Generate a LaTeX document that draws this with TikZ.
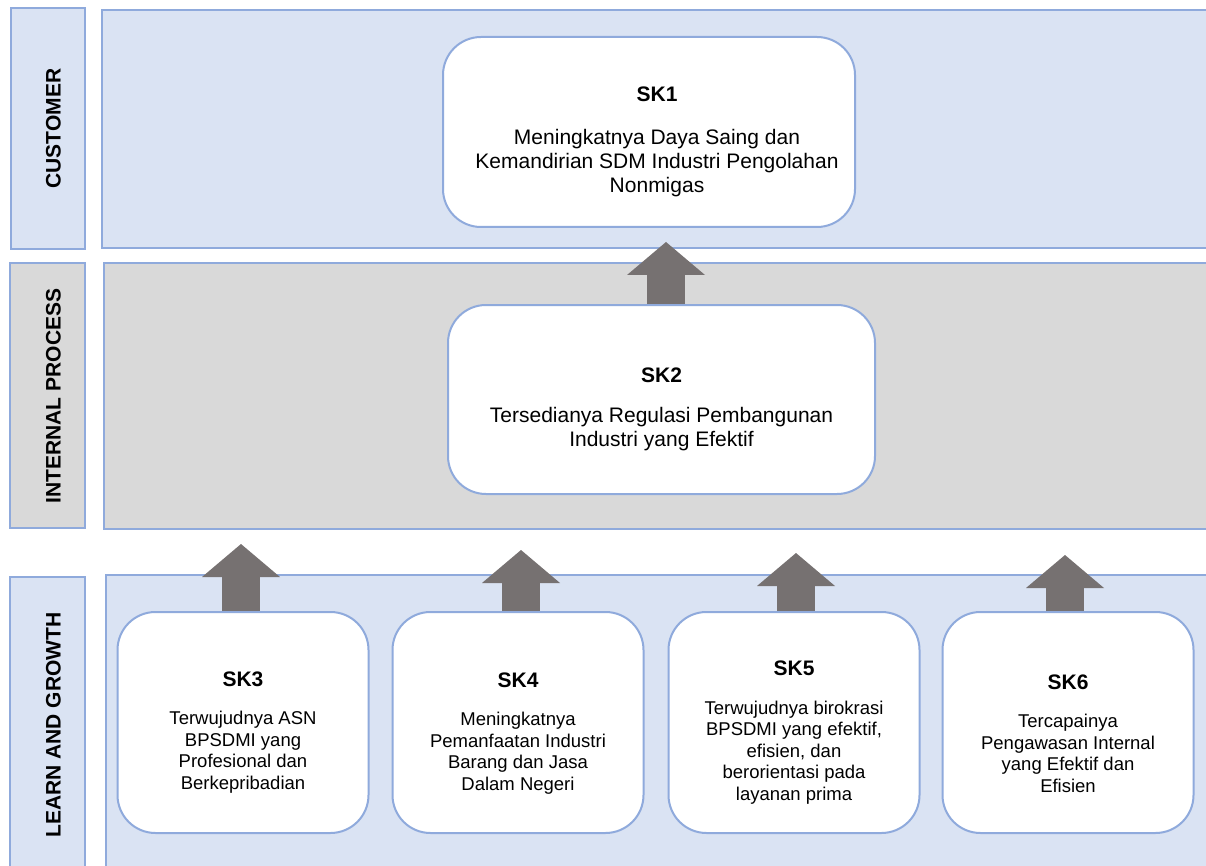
\documentclass[tikz,border=0pt]{standalone}
\usepackage{fontspec}
\setmainfont{Liberation Sans}
\usetikzlibrary{arrows.meta, positioning, calc}
\definecolor{panelblue}{RGB}{218,227,243}
\definecolor{panelgray}{RGB}{217,217,217}
\definecolor{edgeblue}{RGB}{143,170,220}
\definecolor{arrowgray}{RGB}{118,113,113}

\tikzset{
  lanebox/.style={draw=edgeblue, line width=2pt},
  lanelabel/.style={rotate=90, font=\fontsize{21}{24}\selectfont\bfseries},
  skbox/.style={draw=edgeblue, line width=2pt, fill=white, rounded corners=38pt, inner sep=0pt},
  lowbox/.style={skbox, minimum width=251pt, minimum height=221pt},
  toptext/.style={align=center, font=\fontsize{21}{24}\selectfont},
  lowtext/.style={align=center, font=\fontsize{18.5}{21.5}\selectfont},
  upblock/.style={arrowgray, line width=38pt, -{Triangle[width=78pt, length=33pt, line width=0pt]}},
}
\newcommand{\lowtitle}[1]{{\fontsize{21}{24}\selectfont\bfseries #1}}

\begin{document}
\begin{tikzpicture}[x=1pt, y=-1pt]
\clip (0,0) rectangle (1206,866);

% Lanes (labels on the left)
\draw[lanebox, fill=panelblue] (11,8) rectangle (85,249);
\draw[lanebox, fill=panelgray] (10,263) rectangle (85,528);
\draw[lanebox, fill=panelblue] (10,577) rectangle (85,880);
\draw[lanebox, fill=panelblue] (102,10) rectangle (1220,248);
\draw[lanebox, fill=panelgray] (104,263) rectangle (1220,529);
\draw[lanebox, fill=panelblue] (106,575) rectangle (1220,880);

\node[lanelabel] (customer) at (53.5,128.5) {CUSTOMER};
\node[lanelabel] (internal) at (53.5,396) {INTERNAL PROCESS};
\node[lanelabel] (learn) at (53.5,725) {LEARN AND GROWTH};

% Customer
\node[skbox, minimum width=412pt, minimum height=190pt] (sk1) at (649,132) {};
\node[toptext] (sk1text) at ([xshift=8pt, yshift=-10pt]sk1.center)
  {\textbf{SK1}\\[19pt]Meningkatnya Daya Saing dan\\Kemandirian SDM Industri Pengolahan\\Nonmigas};

% Internal process
\node[skbox, minimum width=427pt, minimum height=189pt] (sk2) at (661.5,399.5) {};
\node[toptext] (sk2text) at ([yshift=-10pt]sk2.center)
  {\textbf{SK2}\\[16pt]Tersedianya Regulasi Pembangunan\\Industri yang Efektif};

% Learn and growth
\node[lowbox] (sk3) at (243,722.5) {};
\node[lowbox, right=22pt of sk3] (sk4) {};
\node[lowbox, right=23pt of sk4] (sk5) {};
\node[lowbox, right=21pt of sk5] (sk6) {};

\node[lowtext] (sk3text) at ([yshift=-10pt]sk3.center)
  {\lowtitle{SK3}\\[17pt]Terwujudnya ASN\\BPSDMI yang\\Profesional dan\\Berkepribadian};
\node[lowtext] (sk4text) at ([yshift=-11pt]sk4.center)
  {\lowtitle{SK4}\\[17pt]Meningkatnya\\Pemanfaatan Industri\\Barang dan Jasa\\Dalam Negeri};
\node[lowtext] (sk5text) at ([yshift=-10pt]sk5.center)
  {\lowtitle{SK5}\\[17pt]Terwujudnya birokrasi\\BPSDMI yang efektif,\\efisien, dan\\berorientasi pada\\layanan prima};
\node[lowtext] (sk6text) at ([yshift=-11pt]sk6.center)
  {\lowtitle{SK6}\\[17pt]Tercapainya\\Pengawasan Internal\\yang Efektif dan\\Efisien};

% Block arrows
\coordinate (tip2) at (666,242);
\coordinate (tip3) at (241,544);
\coordinate (tip4) at (521,550);
\coordinate (tip5) at (796,553);
\coordinate (tip6) at (1065,555);
\draw[upblock] (sk2.north -| tip2) -- (tip2);
\draw[upblock] (sk3.north -| tip3) -- (tip3);
\draw[upblock] (sk4.north -| tip4) -- (tip4);
\draw[upblock] (sk5.north -| tip5) -- (tip5);
\draw[upblock] (sk6.north -| tip6) -- (tip6);
\end{tikzpicture}
\end{document}
